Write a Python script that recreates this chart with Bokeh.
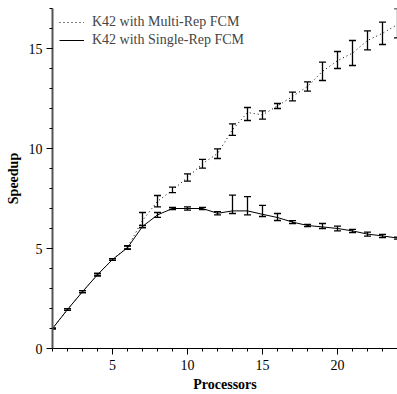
from bokeh.plotting import figure
from bokeh.models import ColumnDataSource, Whisker, TeeHead, Legend, LegendItem, SingleIntervalTicker, Range1d
from bokeh.embed import file_html
from bokeh.resources import INLINE

processors = list(range(1, 25))

single_mean = [1.0, 1.95, 2.84, 3.69, 4.45, 5.04, 6.1, 6.68, 7.0, 7.0, 7.0, 6.76,
               6.88, 6.88, 6.71, 6.55, 6.32, 6.15, 6.08, 6.0, 5.88, 5.72, 5.63, 5.52]
single_lower = [0.98, 1.91, 2.79, 3.63, 4.41, 4.96, 6.04, 6.56, 6.95, 6.92, 6.94, 6.68,
                6.75, 6.68, 6.6, 6.4, 6.25, 6.09, 6.0, 5.88, 5.8, 5.62, 5.55, 5.47]
single_upper = [1.02, 1.99, 2.89, 3.75, 4.49, 5.12, 6.16, 6.8, 7.05, 7.08, 7.06, 6.84,
                7.67, 7.59, 7.16, 6.75, 6.39, 6.21, 6.25, 6.12, 5.96, 5.82, 5.71, 5.57]

multi_mean = [1.0, 1.95, 2.84, 3.69, 4.45, 5.06, 6.4, 7.36, 7.92, 8.55, 9.24, 9.75,
              10.94, 11.8, 11.68, 12.13, 12.6, 13.1, 13.86, 14.39, 14.77, 15.4, 15.76, 16.2]
multi_lower = [0.98, 1.91, 2.79, 3.63, 4.41, 4.98, 6.05, 7.08, 7.79, 8.37, 9.02, 9.5,
               10.66, 11.4, 11.47, 12.0, 12.38, 12.87, 13.4, 14.0, 14.15, 14.93, 15.2, 15.53]
multi_upper = [1.02, 1.99, 2.89, 3.75, 4.49, 5.14, 6.8, 7.65, 8.07, 8.73, 9.46, 9.98,
               11.23, 12.05, 11.88, 12.25, 12.82, 13.33, 14.32, 14.85, 15.4, 15.88, 16.32, 17.0]

label_multi = "K42 with Multi-Rep FCM"
label_single = "K42 with Single-Rep FCM"
x_label = "Processors"
y_label = "Speedup"

FONT = "Liberation Serif"

p = figure(width=397, height=394, output_backend="svg", toolbar_location=None,
           x_range=Range1d(1, 24), y_range=Range1d(0, 17.0),
           min_border_left=52, min_border_right=0, min_border_top=8, min_border_bottom=41)
p.outline_line_color = None
p.grid.visible = False
p.background_fill_color = "white"

src_s = ColumnDataSource(dict(x=processors, y=single_mean, lo=single_lower, hi=single_upper))
src_m = ColumnDataSource(dict(x=processors, y=multi_mean, lo=multi_lower, hi=multi_upper))

r_m = p.line("x", "y", source=src_m, line_color="black", line_width=1, line_dash="1 3")
r_s = p.line("x", "y", source=src_s, line_color="black", line_width=1)

for src in (src_m, src_s):
    w = Whisker(source=src, base="x", lower="lo", upper="hi", line_color="black", line_width=1.3,
                lower_head=TeeHead(size=7, line_color="black", line_width=1.3),
                upper_head=TeeHead(size=7, line_color="black", line_width=1.3))
    p.add_layout(w)

p.xaxis.ticker = SingleIntervalTicker(interval=5, num_minor_ticks=5)
p.yaxis.ticker = SingleIntervalTicker(interval=5, num_minor_ticks=5)
for ax in (p.xaxis, p.yaxis):
    ax.major_label_text_font = FONT
    ax.major_label_text_font_size = "14px"
    ax.major_label_text_color = "black"
    ax.axis_label_text_font = FONT
    ax.axis_label_text_font_size = "14px"
    ax.axis_label_text_font_style = "bold"
    ax.axis_label_text_color = "black"
    ax.major_tick_in = 0
    ax.major_tick_out = 6
    ax.minor_tick_in = 0
    ax.minor_tick_out = 3
    ax.major_label_standoff = 4
    ax.axis_label_standoff = 5
p.xaxis.major_label_standoff = 5
p.xaxis.axis_label_standoff = 4
p.xaxis.axis_label = x_label
p.yaxis.axis_label = y_label
p.xaxis.axis_line_color = "black"
p.yaxis.axis_line_color = "#555555"
p.yaxis.axis_line_width = 2

legend = Legend(items=[LegendItem(label=label_multi, renderers=[r_m]),
                       LegendItem(label=label_single, renderers=[r_s])],
                location=(7, 299), border_line_color=None, background_fill_alpha=0,
                label_text_font=FONT, label_text_font_size="14px",
                glyph_width=25, glyph_height=18, label_height=18, spacing=0,
                padding=4, margin=0, label_standoff=8)
p.add_layout(legend)

open("out.html", "w").write(file_html(p, INLINE))
